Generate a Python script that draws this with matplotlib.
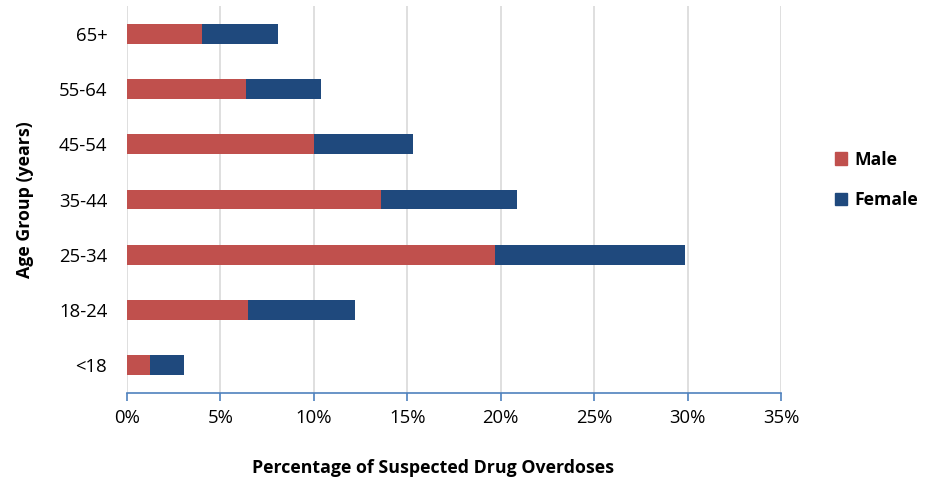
import matplotlib.pyplot as plt
import numpy as np
from matplotlib.patches import Patch

plt.rcParams['font.family'] = ['Open Sans', 'DejaVu Sans']

# Share of suspected drug overdoses by age group, split by sex (%)
age_groups = ['<18', '18-24', '25-34', '35-44', '45-54', '55-64', '65+']
male = [1.27, 6.5, 19.7, 13.6, 10.0, 6.4, 4.0]
female = [1.8, 5.7, 10.15, 7.3, 5.3, 4.0, 4.1]
x_ticks = [0, 5, 10, 15, 20, 25, 30, 35]

male_color = '#C0504D'
female_color = '#1F497D'

fig = plt.figure(figsize=(9.32, 4.79), dpi=100)
ax = fig.add_axes([0.136, 0.18, 0.702, 0.807])

y = np.arange(len(age_groups))
ax.barh(y, male, height=0.36, color=male_color, zorder=3)
ax.barh(y, female, left=male, height=0.36, color=female_color, zorder=3)

ax.set_xlim(0, 35)
ax.set_ylim(-0.5, len(age_groups) - 0.5)
ax.set_xticks(x_ticks)
ax.set_xticklabels(['{}%'.format(t) for t in x_ticks], fontsize=13.3)
ax.set_yticks(y)
ax.set_yticklabels(age_groups, fontsize=13.3)

ax.grid(axis='x', color='#D9D9D9', linewidth=1.2, zorder=0)
for s in ['top', 'right', 'left']:
    ax.spines[s].set_visible(False)
ax.spines['bottom'].set_color('#4F81BD')
ax.spines['bottom'].set_linewidth(1.2)
ax.tick_params(axis='x', colors='#4F81BD', labelcolor='black', length=6, width=1.2, pad=6)
ax.tick_params(axis='y', length=0, pad=14)

fig.text(433 / 932, 1 - 468 / 479, 'Percentage of Suspected Drug Overdoses',
         fontsize=12.8, fontweight='bold', ha='center', va='center')
fig.text(25 / 932, 1 - 200 / 479, 'Age Group (years)', rotation=90,
         fontsize=12.8, fontweight='bold', ha='center', va='center')

handles = [Patch(color=male_color, label='Male'), Patch(color=female_color, label='Female')]
fig.legend(handles=handles, loc='center left', bbox_to_anchor=(0.896, 0.624),
           frameon=False, prop={'size': 12.6, 'weight': 'bold'},
           borderpad=0, borderaxespad=0,
           handlelength=0.7, handleheight=0.7, labelspacing=1.3, handletextpad=0.4)

fig.savefig('out.png', dpi=100)
